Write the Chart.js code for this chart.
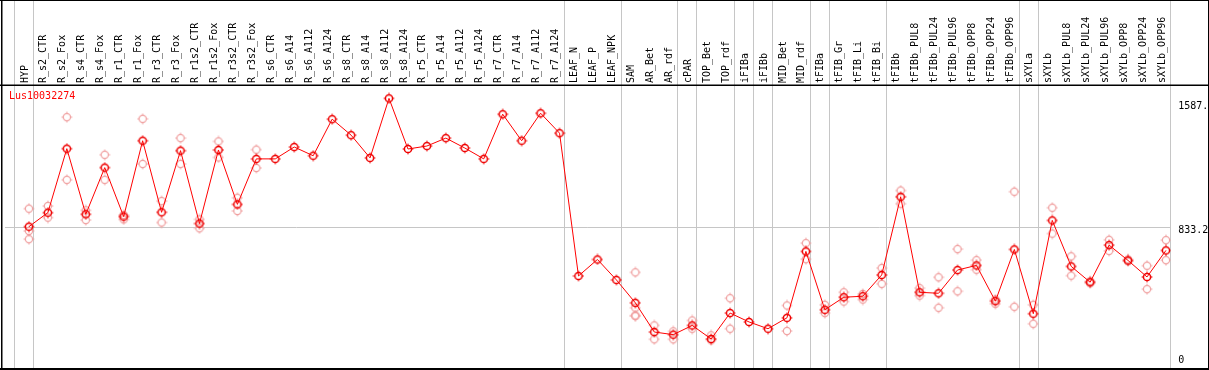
<!DOCTYPE html>
<html><head><meta charset="utf-8">
<script src="https://cdn.jsdelivr.net/npm/chart.js@4.4.1/dist/chart.umd.min.js"></script>
<style>html,body{margin:0;padding:0;background:#fff;overflow:hidden}canvas{display:block}</style>
</head><body>
<canvas id="c" width="1209" height="370"></canvas>
<script>
const chartTitle = 'Lus10032274';
const categories = ['HYP','R_s2_CTR','R_s2_Fox','R_s4_CTR','R_s4_Fox','R_r1_CTR','R_r1_Fox','R_r3_CTR','R_r3_Fox','R_r1s2_CTR','R_r1s2_Fox','R_r3s2_CTR','R_r3s2_Fox','R_s6_CTR','R_s6_A14','R_s6_A112','R_s6_A124','R_s8_CTR','R_s8_A14','R_s8_A112','R_s8_A124','R_r5_CTR','R_r5_A14','R_r5_A112','R_r5_A124','R_r7_CTR','R_r7_A14','R_r7_A112','R_r7_A124','LEAF_N','LEAF_P','LEAF_NPK','SAM','AR_Bet','AR_rdf','cPAR','TOP_Bet','TOP_rdf','iFIBa','iFIBb','MID_Bet','MID_rdf','tFIBa','tFIB_Gr','tFIB_Li','tFIB_Bi','tFIBb','tFIBb_PUL8','tFIBb_PUL24','tFIBb_PUL96','tFIBb_OPP8','tFIBb_OPP24','tFIBb_OPP96','sXYLa','sXYLb','sXYLb_PUL8','sXYLb_PUL24','sXYLb_PUL96','sXYLb_OPP8','sXYLb_OPP24','sXYLb_OPP96'];
const meanValues = [839,924,1312,914,1197,900,1360,926,1300,858,1304,974,1250,1250,1322,1269,1491,1394,1256,1617,1310,1328,1376,1316,1250,1521,1360,1527,1406,540,640,516,377,200,184,240,158,315,261,220,286,689,335,411,417,546,1020,441,435,576,604,387,701,311,877,598,502,727,634,534,695];
const rep1 = [948,964,1503,938,1275,909,1493,994,1376,883,1356,1014,1306,
  null,null,null,null,null,null,null,null,null,null,null,null,null,null,null,null,null,null,null,
  562,240,204,270,180,405,null,null,361,739,365,441,431,588,1058,466,532,703,636,397,1051,365,954,659,508,759,640,602,757];
const rep2 = [813,894,1123,879,1123,883,1219,864,1219,829,1259,934,1195,
  null,null,null,null,null,null,null,null,null,null,null,null,null,null,null,null,null,null,null,
  347,156,156,220,150,220,null,null,206,642,315,385,397,492,978,421,347,447,578,371,353,250,797,542,496,692,629,460,636];
const rep3 = [763,null,null,null,null,null,null,null,null,null,null,null,null,
  null,null,null,null,null,null,null,null,null,null,null,null,null,null,null,null,null,null,null,
  300,null,null,null,null,null,null,null,null,null,null,null,null,null,null,null,null,null,null,null,null,null,null,null,null,null,null,null,null];
const rep4 = [null,null,null,null,null,null,null,null,null,null,null,null,null,
  null,null,null,null,null,null,null,null,null,null,null,null,null,null,null,null,null,null,null,
  297,null,null,null,null,null,null,null,null,null,null,null,null,null,null,null,null,null,null,null,null,null,null,null,null,null,null,null,null];
const groupEnds = [-1,0,28,31,34,35,37,38,39,41,42,45,52,53,60];
const gridValues = [833.2];
const yTickValues = [0, 833.2, 1587.4];
const yTickLabels = ['0', '833.2', '1587.'];

function makeMarker(color, lw) {
  const c = document.createElement('canvas');
  c.width = 12; c.height = 12;
  const g = c.getContext('2d');
  g.strokeStyle = color; g.fillStyle = color; g.lineWidth = lw;
  g.beginPath(); g.arc(6, 6, 3.6, 0, Math.PI * 2); g.stroke();
  g.fillRect(5.5, 0.6, 1, 1.4);
  g.fillRect(5.5, 10, 1, 1.4);
  g.fillRect(0.6, 5.5, 1.4, 1);
  g.fillRect(10, 5.5, 1.4, 1);
  return c;
}
const mainMarker = makeMarker('#ee0000', 1.5);
const repMarker = makeMarker('#f0a0a0', 1.2);

const mainData = meanValues.map((v, i) => ({x: i, y: v}));
const repData = [];
[rep1, rep2, rep3, rep4].forEach(r => r.forEach((v, i) => { if (v !== null) repData.push({x: i, y: v}); }));

const mono = '"DejaVu Sans Mono", "Liberation Mono", monospace';

const decor = {
  id: 'decor',
  beforeDatasetsDraw(chart) {
    const {ctx, chartArea: a, scales: {x, y}} = chart;
    ctx.save();
    ctx.strokeStyle = '#c6c6c6'; ctx.lineWidth = 1;
    groupEnds.forEach(b => {
      const px = Math.floor(x.getPixelForValue(b + 0.25)) + 0.5;
      ctx.beginPath(); ctx.moveTo(px, 0); ctx.lineTo(px, chart.height); ctx.stroke();
    });
    gridValues.forEach(v => {
      const py = Math.floor(y.getPixelForValue(v)) + 0.5;
      ctx.beginPath(); ctx.moveTo(a.left, py); ctx.lineTo(a.right, py); ctx.stroke();
    });
    ctx.restore();
  },
  afterDraw(chart) {
    const {ctx, chartArea: a, scales: {y}} = chart;
    ctx.save();
    ctx.fillStyle = '#000';
    ctx.fillRect(0, 0, chart.width, 1);
    ctx.fillRect(1, 0, 1.5, chart.height);
    ctx.fillRect(chart.width - 1, 0, 1, chart.height);
    ctx.fillRect(0, chart.height - 2, chart.width, 2);
    ctx.fillRect(0, 84.5, chart.width, 1.5);
    ctx.font = '10px ' + mono;
    ctx.textBaseline = 'top';
    ctx.textAlign = 'left';
    yTickValues.forEach((v, i) => {
      const py = Math.min(y.getPixelForValue(v) - 2, a.bottom - 10);
      ctx.fillText(yTickLabels[i], a.right + 7.5, py);
    });
    ctx.fillStyle = '#ff0000';
    ctx.fillText(chartTitle, 9, 91.5);
    ctx.restore();
  }
};

new Chart(document.getElementById('c'), {
  type: 'line',
  data: {
    datasets: [
      {
        data: mainData,
        borderColor: '#ff0000',
        borderWidth: 1,
        pointStyle: mainMarker,
        pointRadius: 4,
        tension: 0,
        fill: false
      },
      {
        data: repData,
        showLine: false,
        pointStyle: repMarker,
        pointRadius: 4
      }
    ]
  },
  options: {
    responsive: false,
    animation: false,
    devicePixelRatio: 1,
    layout: {padding: {left: 2, right: 38.3, top: 0, bottom: 3.5}},
    plugins: {legend: {display: false}, tooltip: {enabled: false}, title: {display: false}},
    scales: {
      x: {
        type: 'linear',
        position: 'top',
        min: -1.263,
        max: 60.25,
        afterBuildTicks: (s) => { s.ticks = categories.map((c, i) => ({value: i})); },
        afterFit: (s) => { s.height = 86; s.paddingLeft = 0; s.paddingRight = 0; },
        grid: {display: false, drawTicks: false},
        border: {display: false},
        ticks: {
          autoSkip: false,
          minRotation: 90,
          maxRotation: 90,
          padding: 3,
          labelOffset: 8,
          color: '#000',
          font: {family: mono, size: 10},
          callback: (v) => categories[v]
        }
      },
      y: {
        display: false,
        min: 0,
        max: 1692
      }
    }
  },
  plugins: [decor]
});
</script></body></html>
